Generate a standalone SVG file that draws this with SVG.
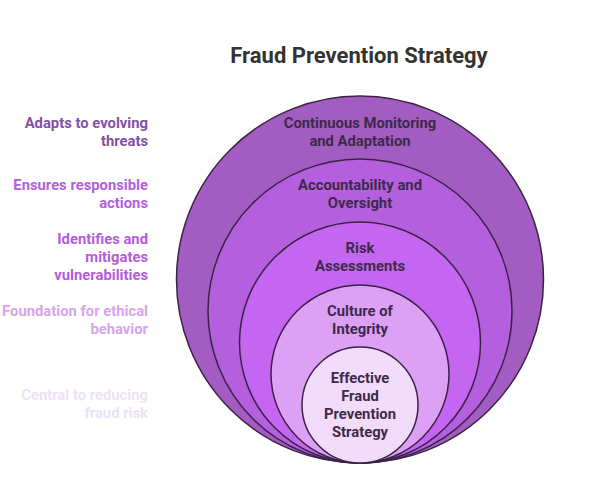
<svg xmlns="http://www.w3.org/2000/svg" width="600" height="480" viewBox="0 0 600 480">
<style>
.title{font-family:Roboto,"Liberation Sans",sans-serif;font-weight:700;font-size:22px;fill:#333333;text-anchor:middle}
.ring{stroke:#3b2347;stroke-width:1.5}
.in{font-family:Roboto,"Liberation Sans",sans-serif;font-weight:700;font-size:14.8px;fill:#3d2a4a;text-anchor:middle}
.side{font-family:Roboto,"Liberation Sans",sans-serif;font-weight:700;font-size:14.8px;text-anchor:end}
</style>
<rect width="600" height="480" fill="#ffffff"/>
<text class="title" x="359" y="63">Fraud Prevention Strategy</text>
<g id="connectors"></g>
<g id="node-monitoring">
<circle class="ring" cx="360" cy="279.5" r="183.5" fill="#a35cc1"/>
<text class="in" x="360" y="128">Continuous Monitoring</text>
<text class="in" x="360" y="146">and Adaptation</text>
</g>
<g id="node-accountability">
<circle class="ring" cx="360" cy="311" r="152" fill="#b45fdd"/>
<text class="in" x="360" y="190">Accountability and</text>
<text class="in" x="360" y="208">Oversight</text>
</g>
<g id="node-risk">
<circle class="ring" cx="360" cy="342.5" r="120.5" fill="#c466f1"/>
<text class="in" x="360" y="253">Risk</text>
<text class="in" x="360" y="271">Assessments</text>
</g>
<g id="node-culture">
<circle class="ring" cx="360" cy="374" r="89" fill="#dca0f5"/>
<text class="in" x="360" y="316">Culture of</text>
<text class="in" x="360" y="334">Integrity</text>
</g>
<g id="node-core">
<circle class="ring" cx="360" cy="405" r="58" fill="#f2dbfb"/>
<text class="in" x="360" y="383">Effective</text>
<text class="in" x="360" y="401">Fraud</text>
<text class="in" x="360" y="419">Prevention</text>
<text class="in" x="360" y="437">Strategy</text>
</g>
<g id="label-monitoring">
<text class="side" x="148" y="128" fill="#8350a3">Adapts to evolving</text>
<text class="side" x="148" y="146" fill="#8350a3">threats</text>
</g>
<g id="label-accountability">
<text class="side" x="148" y="190" fill="#b45fdd">Ensures responsible</text>
<text class="side" x="148" y="208" fill="#b45fdd">actions</text>
</g>
<g id="label-risk">
<text class="side" x="148" y="244" fill="#b55cd8">Identifies and</text>
<text class="side" x="148" y="262" fill="#b55cd8">mitigates</text>
<text class="side" x="148" y="280" fill="#b55cd8">vulnerabilities</text>
</g>
<g id="label-culture">
<text class="side" x="148" y="316" fill="#d9a3ef">Foundation for ethical</text>
<text class="side" x="148" y="334" fill="#d9a3ef">behavior</text>
</g>
<g id="label-core">
<text class="side" x="148" y="400" fill="#ede1f7">Central to reducing</text>
<text class="side" x="148" y="418" fill="#ede1f7">fraud risk</text>
</g>
</svg>
